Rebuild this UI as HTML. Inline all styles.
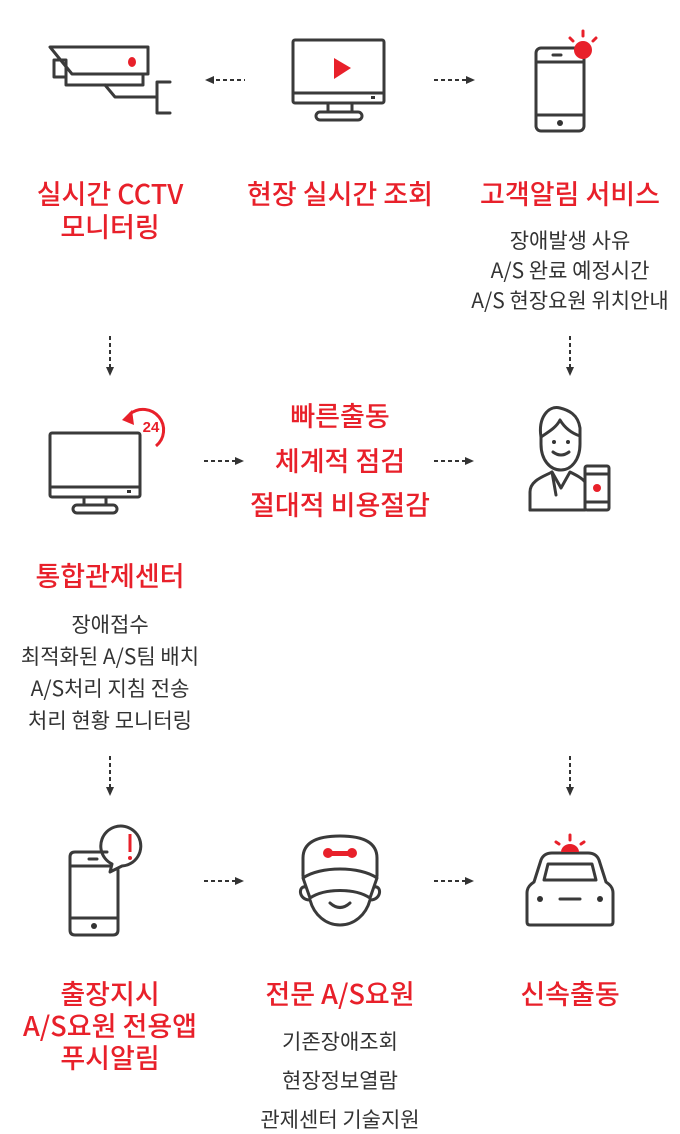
<!DOCTYPE html>
<html><head><meta charset="utf-8"><style>
html,body{margin:0;padding:0;background:#fff;}
svg{display:block;}
.r{fill:#e8202a;font-family:"Noto Sans CJK KR","Liberation Sans",sans-serif;font-size:27px;font-weight:500;text-anchor:middle;}
.g{fill:#333;font-family:"Noto Sans CJK KR","Liberation Sans",sans-serif;font-size:21px;text-anchor:middle;}
.s{fill:none;stroke:#3a3a3a;stroke-width:3;stroke-linejoin:round;stroke-linecap:round;}
.d{stroke:#333;stroke-width:2;stroke-dasharray:4 3;fill:none;}
</style></head><body>
<svg width="680" height="1134" viewBox="0 0 680 1134" xmlns="http://www.w3.org/2000/svg">
<g class="s">
<polygon points="50,47 148,47 148,74 72,74"/>
<polyline points="66,74 66,85 143,85 143,74"/>
<rect x="54" y="60" width="12" height="17"/>
<polyline points="105,85 115,97 157,97"/>
<polyline points="170,82 157,82 157,113 170,113"/>
</g>
<ellipse cx="132" cy="62" rx="4" ry="5" fill="#e8202a"/>
<g class="s">
<rect x="293" y="40" width="91" height="63" rx="2"/>
<line x1="293" y1="93" x2="384" y2="93"/>
<rect x="328" y="103" width="24" height="9"/>
<rect x="316" y="112" width="46" height="8" rx="4"/>
</g>
<rect x="371" y="96" width="4" height="3" fill="#333"/>
<polygon points="334,58 351,68 334,79" fill="#e8202a"/>
<g class="s">
<rect x="536" y="48" width="48" height="83" rx="5"/>
<line x1="536" y1="62" x2="584" y2="62"/>
<line x1="536" y1="115" x2="584" y2="115"/>
<line x1="553" y1="55" x2="561" y2="55"/>
</g>
<circle cx="560" cy="123" r="3" fill="#333"/>
<circle cx="583" cy="50" r="9" fill="#e8202a"/>
<g stroke="#e8202a" stroke-width="3" stroke-linecap="round">
<line x1="583" y1="31" x2="583" y2="36"/><line x1="570" y1="38" x2="573" y2="41"/><line x1="596" y1="38" x2="593" y2="41"/></g>
<line class="d" x1="216" y1="80" x2="245" y2="80"/><polygon points="205,80 214,76 214,84" fill="#333"/>
<line class="d" x1="434" y1="80" x2="466" y2="80"/><polygon points="475,80 466,76 466,84" fill="#333"/>
<text class="r" x="110" y="204">실시간 CCTV</text>
<text class="r" x="110" y="237">모니터링</text>
<text class="r" x="340" y="204">현장 실시간 조회</text>
<text class="r" x="570" y="204">고객알림 서비스</text>
<text class="g" x="570" y="248">장애발생 사유</text>
<text class="g" x="570" y="278">A/S 완료 예정시간</text>
<text class="g" x="570" y="308">A/S 현장요원 위치안내</text>
<line class="d" x1="110" y1="336" x2="110" y2="367"/><polygon points="110,376 106,367 114,367" fill="#333"/>
<line class="d" x1="570" y1="336" x2="570" y2="367"/><polygon points="570,376 566,367 574,367" fill="#333"/>
<g class="s">
<rect x="50" y="433" width="90" height="64" rx="2"/>
<line x1="50" y1="487" x2="140" y2="487"/>
<rect x="84" y="497" width="22" height="8"/>
<rect x="73" y="505" width="44" height="8" rx="4"/>
</g>
<rect x="127" y="490" width="4" height="3" fill="#333"/>
<path d="M130,414 A20,20 0 1 1 156,446" fill="none" stroke="#e8202a" stroke-width="3"/>
<polygon points="122,420 132,410 134,425" fill="#e8202a"/>
<text x="151" y="432" fill="#e8202a" font-family="Liberation Sans,sans-serif" font-size="15" font-weight="bold" text-anchor="middle">24</text>
<line class="d" x1="204" y1="461" x2="235" y2="461"/><polygon points="244,461 235,457 235,465" fill="#333"/>
<line class="d" x1="434" y1="461" x2="465" y2="461"/><polygon points="474,461 465,457 465,465" fill="#333"/>
<text class="r" x="340" y="426" font-size="28">빠른출동</text>
<text class="r" x="340" y="471" font-size="28">체계적 점검</text>
<text class="r" x="340" y="515" font-size="28">절대적 비용절감</text>
<g class="s">
<path d="M541,437 C538,418 548,405 560,408 C568,410 578,414 580,428 L580,444 C580,460 571,470 561,470 C550,470 541,460 541,444 Z"/>
<path d="M541,437 C548,432 556,428 560,420 C566,430 574,434 580,436"/>
<path d="M530,510 L530,492 C530,480 545,476 552,472 L561,488 L570,472 C576,475 582,478 585,482"/>
<polyline points="552,472 556,495"/>
<line x1="530" y1="510" x2="585" y2="510"/>
<rect x="585" y="466" width="24" height="44" rx="2"/>
<line x1="585" y1="474" x2="609" y2="474"/><line x1="585" y1="502" x2="609" y2="502"/>
</g>
<path d="M553,452 Q561,458 569,452" class="s" stroke-width="2.5"/>
<circle cx="554" cy="442" r="2" fill="#333"/><circle cx="568" cy="442" r="2" fill="#333"/>
<circle cx="597" cy="488" r="4" fill="#e8202a"/>
<text class="r" x="110" y="586">통합관제센터</text>
<text class="g" x="110" y="632">장애접수</text>
<text class="g" x="110" y="664">최적화된 A/S팀 배치</text>
<text class="g" x="110" y="696">A/S처리 지침 전송</text>
<text class="g" x="110" y="728">처리 현황 모니터링</text>
<line class="d" x1="110" y1="756" x2="110" y2="787"/><polygon points="110,796 106,787 114,787" fill="#333"/>
<line class="d" x1="570" y1="756" x2="570" y2="787"/><polygon points="570,796 566,787 574,787" fill="#333"/>
<g class="s">
<path d="M107,852 L75,852 Q70,852 70,857 L70,930 Q70,935 75,935 L113,935 Q118,935 118,930 L118,870"/>
<line x1="70" y1="866" x2="110" y2="866"/><line x1="70" y1="918" x2="118" y2="918"/>
<line x1="89" y1="859" x2="97" y2="859"/>
<path d="M112,864 A20,20 0 1 1 122,866 L110,872 Z"/>
</g>
<circle cx="94" cy="926" r="3" fill="#333"/>
<line x1="130" y1="834" x2="130" y2="852" stroke="#e8202a" stroke-width="3"/><circle cx="130" cy="858" r="2" fill="#e8202a"/>
<line class="d" x1="204" y1="881" x2="235" y2="881"/><polygon points="244,881 235,877 235,885" fill="#333"/>
<line class="d" x1="434" y1="881" x2="465" y2="881"/><polygon points="474,881 465,877 465,885" fill="#333"/>
<g class="s">
<path d="M303,876 L303,858 C303,842 318,836 340,836 C362,836 377,842 377,858 L377,876"/>
<path d="M303,878 C320,866 360,866 377,878 L370,898 C355,888 325,888 310,898 Z"/>
<path d="M306,887 C298,885 298,900 310,900 C314,915 326,925 340,925 C354,925 366,915 370,900 C382,900 382,885 374,887"/>
<path d="M330,903 Q340,912 350,903"/>
</g>
<g fill="#e8202a"><rect x="328" y="851" width="24" height="5"/><circle cx="328" cy="853" r="5"/><circle cx="352" cy="853" r="5"/></g>
<g class="s">
<path d="M527,922 L527,893 C527,887 531,884 534,882 L541,860 C543,855 547,853 552,853 L588,853 C593,853 597,855 599,860 L606,882 C609,884 613,887 613,893 L613,922 Q613,925 610,925 L530,925 Q527,925 527,922 Z"/>
<path d="M544,880 L548,864 L592,864 L596,880 Z"/>
<line x1="560" y1="899" x2="580" y2="899"/>
</g>
<circle cx="540" cy="899" r="3" fill="#333"/><circle cx="600" cy="899" r="3" fill="#333"/>
<path d="M561,852 A9,8 0 0 1 579,852 Z" fill="#e8202a"/>
<g stroke="#e8202a" stroke-width="3" stroke-linecap="round"><line x1="570" y1="835" x2="570" y2="840"/><line x1="556" y1="842" x2="559" y2="844"/><line x1="584" y1="842" x2="581" y2="844"/></g>
<text class="r" x="110" y="1004">출장지시</text>
<text class="r" x="110" y="1036">A/S요원 전용앱</text>
<text class="r" x="110" y="1068">푸시알림</text>
<text class="r" x="340" y="1004">전문 A/S요원</text>
<text class="g" x="340" y="1049">기존장애조회</text>
<text class="g" x="340" y="1088">현장정보열람</text>
<text class="g" x="340" y="1127">관제센터 기술지원</text>
<text class="r" x="570" y="1004">신속출동</text>
</svg>
</body></html>
